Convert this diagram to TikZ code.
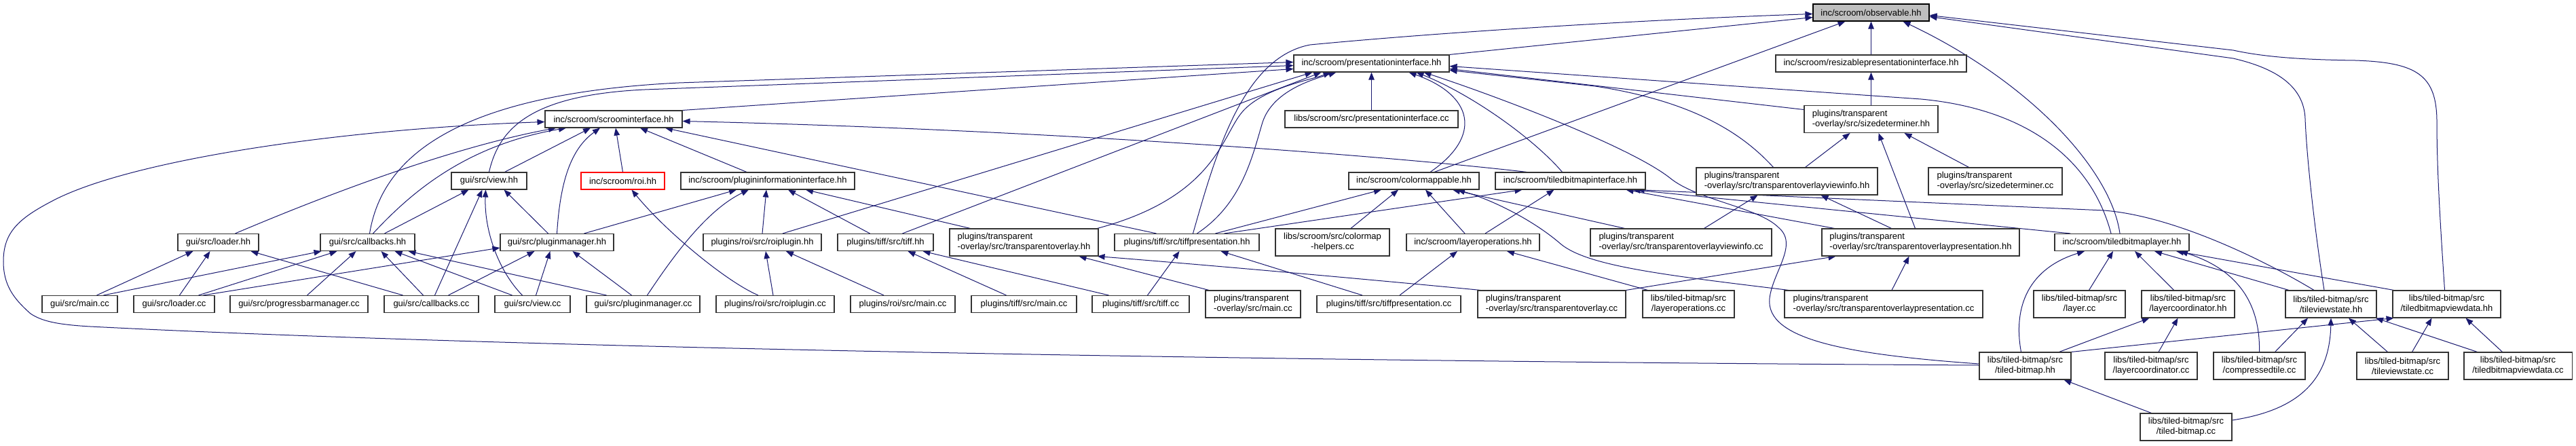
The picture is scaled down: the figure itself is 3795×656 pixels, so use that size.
\documentclass[tikz,border=0pt]{standalone}
\usepackage{fontspec}
\setmainfont{Liberation Sans}
\usetikzlibrary{arrows.meta}
\definecolor{edgeblue}{HTML}{191970}
\newcommand\dxfont{\fontsize{13}{15}\selectfont}
\pgfdeclarelayer{edgelayer}
\pgfsetlayers{edgelayer,main}
\tikzset{
  box/.style={draw=black!80, line width=1.1pt, fill=white, inner sep=0pt, minimum height=25pt, font=\dxfont, text=black},
  boxc/.style={box, minimum height=40pt, align=center},
  boxl/.style={box, minimum height=40pt, align=left},
  e/.style={draw=edgeblue, line width=1pt, -{Triangle[length=11pt,width=8.5pt]}}
}
\begin{document}
\begin{tikzpicture}[x=1pt,y=-1pt]
\useasboundingbox (0,0) rectangle (3795,656);
% row 1
\node[box, minimum width=171pt, fill=black!25, draw=black] (O) at (2756.5,18.5) {inc/scroom/observable.hh};
% row 2
\node[box, minimum width=229pt] (PI) at (2020.5,93.5) {inc/scroom/presentationinterface.hh};
\node[box, minimum width=281pt] (RPI) at (2756.5,93.5) {inc/scroom/resizablepresentationinterface.hh};
% row 3
\node[box, minimum width=202pt] (SI) at (904,175.5) {inc/scroom/scroominterface.hh};
\node[box, minimum width=255pt] (PIcc) at (2020.5,175.5) {libs/scroom/src/presentationinterface.cc};
\node[boxl, minimum width=197pt] (SDhh) at (2756.5,175.5) {plugins/transparent\\-overlay/src/sizedeterminer.hh};
% row 4
\node[box, minimum width=111pt] (VIEWhh) at (720.5,266.5) {gui/src/view.hh};
\node[box, minimum width=123pt, draw=red] (ROI) at (917.5,266.5) {inc/scroom/roi.hh};
\node[box, minimum width=256pt] (PII) at (1131,266.5) {inc/scroom/plugininformationinterface.hh};
\node[box, minimum width=192pt] (CM) at (2083,266.5) {inc/scroom/colormappable.hh};
\node[box, minimum width=221pt] (TBI) at (2313.5,266.5) {inc/scroom/tiledbitmapinterface.hh};
\node[boxl, minimum width=267pt] (VIhh) at (2632.5,267) {plugins/transparent\\-overlay/src/transparentoverlayviewinfo.hh};
\node[boxl, minimum width=197pt] (SDcc) at (2939.5,267) {plugins/transparent\\-overlay/src/sizedeterminer.cc};
% row 5
\node[box, minimum width=119pt] (LOADhh) at (321.5,357) {gui/src/loader.hh};
\node[box, minimum width=139pt] (CBhh) at (541.5,357) {gui/src/callbacks.hh};
\node[box, minimum width=167pt] (PMhh) at (820.5,357) {gui/src/pluginmanager.hh};
\node[box, minimum width=174pt] (ROIPhh) at (1123,357) {plugins/roi/src/roiplugin.hh};
\node[box, minimum width=141pt] (TIFFhh) at (1304.5,357) {plugins/tiff/src/tiff.hh};
\node[boxl, minimum width=219pt] (TOhh) at (1508.5,357) {plugins/transparent\\-overlay/src/transparentoverlay.hh};
\node[box, minimum width=213pt] (TPhh) at (1748.5,357) {plugins/tiff/src/tiffpresentation.hh};
\node[boxc, minimum width=168pt] (CMH) at (1963,357) {libs/scroom/src/colormap\\-helpers.cc};
\node[box, minimum width=196pt] (LOhh) at (2170,357) {inc/scroom/layeroperations.hh};
\node[boxl, minimum width=267pt] (VIcc) at (2476.5,357) {plugins/transparent\\-overlay/src/transparentoverlayviewinfo.cc};
\node[boxl, minimum width=291pt] (TOPhh) at (2829.5,357) {plugins/transparent\\-overlay/src/transparentoverlaypresentation.hh};
\node[box, minimum width=198pt] (TBL) at (3126,357) {inc/scroom/tiledbitmaplayer.hh};
% row 6
\node[box, minimum width=111pt] (MAINcc) at (117.5,448) {gui/src/main.cc};
\node[box, minimum width=119pt] (LOADcc) at (256.5,448) {gui/src/loader.cc};
\node[box, minimum width=203pt] (PBMcc) at (440.5,448) {gui/src/progressbarmanager.cc};
\node[box, minimum width=139pt] (CBcc) at (635.5,448) {gui/src/callbacks.cc};
\node[box, minimum width=111pt] (VIEWcc) at (784.5,448) {gui/src/view.cc};
\node[box, minimum width=167pt] (PMcc) at (947.5,448) {gui/src/pluginmanager.cc};
\node[box, minimum width=174pt] (ROIPcc) at (1142,448) {plugins/roi/src/roiplugin.cc};
\node[box, minimum width=154pt] (ROIMAIN) at (1330,448) {plugins/roi/src/main.cc};
\node[box, minimum width=155pt] (TIFFMAIN) at (1508.5,448) {plugins/tiff/src/main.cc};
\node[box, minimum width=143pt] (TIFFcc) at (1680.5,448) {plugins/tiff/src/tiff.cc};
\node[boxl, minimum width=140pt] (TOMAIN) at (1846,448) {plugins/transparent\\-overlay/src/main.cc};
\node[box, minimum width=212pt] (TPcc) at (2046,448) {plugins/tiff/src/tiffpresentation.cc};
\node[boxl, minimum width=218pt] (TOcc) at (2286,448) {plugins/transparent\\-overlay/src/transparentoverlay.cc};
\node[boxc, minimum width=135pt] (LOcc) at (2487.5,448) {libs/tiled-bitmap/src\\/layeroperations.cc};
\node[boxl, minimum width=292pt] (TOPcc) at (2775,448) {plugins/transparent\\-overlay/src/transparentoverlaypresentation.cc};
\node[boxc, minimum width=135pt] (LAYERcc) at (3063.5,448) {libs/tiled-bitmap/src\\/layer.cc};
\node[boxc, minimum width=137pt] (LCHhh) at (3223.5,448) {libs/tiled-bitmap/src\\/layercoordinator.hh};
\node[boxc, minimum width=134pt] (TVShh) at (3434,448) {libs/tiled-bitmap/src\\/tileviewstate.hh};
\node[boxc, minimum width=159pt] (TBVDhh) at (3604.5,448) {libs/tiled-bitmap/src\\/tiledbitmapviewdata.hh};
% row 7
\node[boxc, minimum width=135pt] (TBhh) at (2983.5,539) {libs/tiled-bitmap/src\\/tiled-bitmap.hh};
\node[boxc, minimum width=136pt] (LCcc) at (3169,539) {libs/tiled-bitmap/src\\/layercoordinator.cc};
\node[boxc, minimum width=135pt] (CTcc) at (3328.5,539) {libs/tiled-bitmap/src\\/compressedtile.cc};
\node[boxc, minimum width=135pt] (TVScc) at (3539.5,539) {libs/tiled-bitmap/src\\/tileviewstate.cc};
\node[boxc, minimum width=159pt] (TBVDcc) at (3709.5,539) {libs/tiled-bitmap/src\\/tiledbitmapviewdata.cc};
% row 8
\node[boxc, minimum width=135pt] (TBcc) at (3220.5,629) {libs/tiled-bitmap/src\\/tiled-bitmap.cc};

\begin{pgfonlayer}{edgelayer}
\fill[white] (0,0) rectangle (3795,656);
% into observable
\draw[e] (PI.north east) -- ([yshift=-7pt]O.west);
\draw[e] ([xshift=9pt]TPhh.north) .. controls (1790,230) and (1830,85) .. (1930,66) .. controls (2150,45) and (2450,28) .. ([yshift=-2pt]O.west);
\draw[e] ([xshift=30pt]CM.north) -- ([xshift=-38pt]O.south);
\draw[e] (RPI) -- (O);
\draw[e] ([xshift=-3pt]TBL.north) .. controls (3110,250) and (2990,120) .. ([xshift=47pt]O.south);
\draw[e] ([xshift=-10pt]TVShh.north) .. controls (3410,340) and (3398,230) .. (3396,175) .. controls (3394,125) and (3350,100) .. (3290,86) -- ([yshift=-6pt]O.east);
\draw[e] ([xshift=-3pt]TBVDhh.north) .. controls (3595,330) and (3590,250) .. (3590,180) .. controls (3590,110) and (3560,92) .. (3470,89) .. controls (3400,88) and (3340,85) .. (3290,74) -- ([yshift=-4pt]O.east);
% into presentationinterface
\draw[e] (PIcc) -- (PI);
\draw[e] (SI.north east) -- ([yshift=-8pt]PI.west);
\draw[e] (VIEWhh.north) .. controls (735,190) and (780,140) .. (950,132) -- ([yshift=-3pt]PI.west);
\draw[e] ([xshift=3pt]CBhh.north) .. controls (560,250) and (640,140) .. (1000,122) -- ([yshift=2pt]PI.west);
\draw[e] ([xshift=30pt]ROIPhh.north) -- ([xshift=-87pt]PI.south);
\draw[e] ([xshift=25pt]TIFFhh.north) -- ([xshift=-74pt]PI.south);
\draw[e] ([xshift=108pt]TOhh.north) .. controls (1790,290) and (1800,200) .. (1830,165) .. controls (1860,130) and (1930,118) .. ([xshift=-60pt]PI.south);
\draw[e] ([xshift=15pt]TPhh.north) .. controls (1830,300) and (1845,230) .. (1860,180) .. controls (1875,135) and (1930,118) .. ([xshift=-52pt]PI.south);
\draw[e] ([xshift=24pt]CM.north) .. controls (2185,200) and (2170,140) .. ([xshift=55pt]PI.south);
\draw[e] ([xshift=-12pt]TBI.north) .. controls (2260,205) and (2170,140) .. ([xshift=66pt]PI.south);
\draw[e] ([yshift=3pt]TBhh.west) .. controls (2720,522) and (2600,500) .. (2607,439) .. controls (2612,400) and (2650,360) .. (2620,335) .. controls (2590,305) and (2500,295) .. (2460,262) .. controls (2400,215) and (2200,140) .. ([xshift=77pt]PI.south);
\draw[e] ([xshift=-16pt]TBL.north) .. controls (3080,230) and (2980,160) .. (2830,146) -- ([yshift=-4pt]PI.east);
\draw[e] ([yshift=14pt]SDhh.west) -- ([yshift=-8pt]PI.east);
\draw[e] ([xshift=-20pt]VIhh.north) .. controls (2570,200) and (2500,150) .. (2350,127) -- ([yshift=-10pt]PI.east);
% into scroominterface
\draw[e] ([yshift=1pt]TBhh.west) .. controls (2000,533) and (800,515) .. (133,481) .. controls (80,478) and (60,472) .. (45,462) .. controls (20,440) and (5,420) .. (5,385) .. controls (5,340) and (30,320) .. (83,293) .. controls (200,235) and (500,190) .. ([yshift=-4pt]SI.west);
\draw[e] ([xshift=25pt]LOADhh.north) .. controls (450,300) and (650,220) .. ([xshift=-85pt]SI.south);
\draw[e] ([xshift=8pt]CBhh.north) .. controls (600,290) and (680,215) .. ([xshift=-70pt]SI.south);
\draw[e] ([xshift=23pt]VIEWhh.north) -- ([xshift=-34pt]SI.south);
\draw[e] (PMhh.north) .. controls (825,270) and (840,220) .. ([xshift=-20pt]SI.south);
\draw[e] (ROI.north) -- ([xshift=3pt]SI.south);
\draw[e] ([xshift=-31pt]PII.north) -- ([xshift=39pt]SI.south);
\draw[e] ([xshift=-45pt]TPhh.north) -- ([xshift=76pt]SI.south);
\draw[e] ([xshift=-64pt]TBI.north) .. controls (2000,225) and (1500,190) .. ([yshift=-3pt]SI.east);
% into plugininformationinterface
\draw[e] ([xshift=40pt]PMhh.north) -- ([xshift=-46pt]PII.south);
\draw[e] ([xshift=6pt]PMcc.north) .. controls (990,380) and (1040,310) .. ([xshift=-28pt]PII.south);
\draw[e] (ROIPhh.north) -- ([xshift=-2pt]PII.south);
\draw[e] ([xshift=-23pt]TIFFhh.north) -- ([xshift=30pt]PII.south);
\draw[e] ([xshift=-79pt]TOhh.north) -- ([xshift=56pt]PII.south);
% into roi
\draw[e] ([xshift=-25pt]ROIPcc.north) .. controls (1070,415) and (980,340) .. ([xshift=13pt]ROI.south);
% into view.hh
\draw[e] ([xshift=25pt]CBhh.north) -- ([xshift=-30pt]VIEWhh.south);
\draw[e] ([xshift=5pt]CBcc.north) -- ([xshift=-10pt]VIEWhh.south);
\draw[e] ([xshift=-15pt]VIEWcc.north) .. controls (735,400) and (713,340) .. ([xshift=-5pt]VIEWhh.south);
\draw[e] ([xshift=-13pt]PMhh.north) -- ([xshift=22pt]VIEWhh.south);
% into loader.hh
\draw[e] ([xshift=25pt]MAINcc.north) -- ([xshift=-37pt]LOADhh.south);
\draw[e] ([xshift=8pt]LOADcc.north) -- ([xshift=-12pt]LOADhh.south);
\draw[e] ([xshift=-42pt]CBcc.north) -- ([xshift=48pt]LOADhh.south);
% into callbacks.hh
\draw[e] ([xshift=35pt]MAINcc.north) -- ([xshift=-68pt]CBhh.south);
\draw[e] ([xshift=36pt]LOADcc.north) -- ([xshift=-45pt]CBhh.south);
\draw[e] ([xshift=12pt]PBMcc.north) -- ([xshift=-17pt]CBhh.south);
\draw[e] ([xshift=-12pt]CBcc.north) -- ([xshift=20pt]CBhh.south);
\draw[e] ([xshift=-30pt]VIEWcc.north) -- ([xshift=40pt]CBhh.south);
\draw[e] ([xshift=-54pt]PMcc.north) -- ([xshift=60pt]CBhh.south);
% into pluginmanager.hh
\draw[e] ([xshift=43pt]LOADcc.north) -- ([yshift=-8pt]PMhh.west);
\draw[e] ([xshift=25pt]CBcc.north) -- ([xshift=-33pt]PMhh.south);
\draw[e] ([xshift=5pt]VIEWcc.north) -- ([xshift=-10pt]PMhh.south);
\draw[e] ([xshift=-17pt]PMcc.north) -- ([xshift=23pt]PMhh.south);
% roiplugin.hh
\draw[e] ([xshift=-3pt]ROIPcc.north) -- ([xshift=5pt]ROIPhh.south);
\draw[e] ([xshift=-28pt]ROIMAIN.north) -- ([xshift=35pt]ROIPhh.south);
% tiff.hh
\draw[e] ([xshift=-26pt]TIFFMAIN.north) -- ([xshift=33pt]TIFFhh.south);
\draw[e] ([xshift=-47pt]TIFFcc.north) -- ([xshift=55pt]TIFFhh.south);
% transparentoverlay.hh
\draw[e] ([xshift=-65pt]TOMAIN.north) -- ([xshift=81pt]TOhh.south);
\draw[e] ([xshift=-105pt]TOcc.north) .. controls (2000,410) and (1750,388) .. ([xshift=-2pt]TOhh.south east);
% tiffpresentation.hh
\draw[e] ([xshift=10pt]TIFFcc.north) -- ([xshift=-11pt]TPhh.south);
\draw[e] ([xshift=-39pt]TPcc.north) -- ([xshift=50pt]TPhh.south);
% colormappable
\draw[e] ([xshift=42pt]TPhh.north) -- ([xshift=-48pt]CM.south);
\draw[e] ([xshift=27pt]CMH.north) -- ([xshift=-23pt]CM.south);
\draw[e] ([xshift=-12pt]LOhh.north) -- ([xshift=17pt]CM.south);
\draw[e] ([xshift=-83pt]VIcc.north) -- ([xshift=57pt]CM.south);
\draw[e] ([xshift=-140pt]TOPcc.north) .. controls (2450,405) and (2340,392) .. (2300,360) .. controls (2260,325) and (2200,295) .. ([xshift=64pt]CM.south);
% tiledbitmapinterface
\draw[e] ([xshift=55pt]TPhh.north) -- ([xshift=-71pt]TBI.south);
\draw[e] ([xshift=18pt]LOhh.north) -- ([xshift=-24pt]TBI.south);
\draw[e] ([xshift=-127pt]TOPhh.north) -- ([xshift=82pt]TBI.south);
\draw[e] ([xshift=-76pt]TBL.north) -- ([xshift=92pt]TBI.south);
\draw[e] ([xshift=-25pt]TVShh.north) .. controls (3330,380) and (3200,318) .. (3100,310) -- ([xshift=98pt]TBI.south);
% viewinfo.hh
\draw[e] ([xshift=34pt]VIcc.north) -- ([xshift=-43pt]VIhh.south);
\draw[e] ([xshift=-43pt]TOPhh.north) -- ([xshift=50pt]VIhh.south);
% sizedeterminer.hh
\draw[e] ([xshift=27pt]VIhh.north) -- ([xshift=-31pt]SDhh.south);
\draw[e] ([xshift=-8pt]TOPhh.north) -- ([xshift=11pt]SDhh.south);
\draw[e] ([xshift=-39pt]SDcc.north) -- ([xshift=49pt]SDhh.south);
\draw[e] (SDhh) -- (RPI);
% transparentoverlaypresentation.hh
\draw[e] (TOcc.north east) -- ([xshift=-125pt]TOPhh.south);
\draw[e] ([xshift=12pt]TOPcc.north) -- ([xshift=-17pt]TOPhh.south);
% layeroperations.hh
\draw[e] ([xshift=16pt]TPcc.north) -- ([xshift=-23pt]LOhh.south);
\draw[e] ([xshift=-60pt]LOcc.north) -- ([xshift=50pt]LOhh.south);
% tiledbitmaplayer
\draw[e] ([xshift=-6pt]TBhh.north) .. controls (2965,450) and (2990,395) .. ([xshift=-55pt]TBL.south);
\draw[e] ([xshift=14pt]LAYERcc.north) -- ([xshift=-13pt]TBL.south);
\draw[e] ([xshift=-21pt]LCHhh.north) -- ([xshift=19pt]TBL.south);
\draw[e] ([xshift=-62pt]TVShh.north) -- ([xshift=48pt]TBL.south);
\draw[e] ([xshift=-78pt]TBVDhh.north) -- ([xshift=80pt]TBL.south);
\draw[e] (CTcc.north) .. controls (3330,440) and (3290,395) .. ([xshift=86pt]TBL.south);
% layercoordinator.hh
\draw[e] ([xshift=50pt]TBhh.north) -- ([xshift=-57pt]LCHhh.south);
\draw[e] ([xshift=11pt]LCcc.north) -- ([xshift=-15pt]LCHhh.south);
% tileviewstate.hh
\draw[e] ([xshift=23pt]CTcc.north) -- ([xshift=-34pt]TVShh.south);
\draw[e] ([yshift=10pt]TBcc.east) .. controls (3380,605) and (3432,565) .. (TVShh.south);
\draw[e] ([xshift=-22pt]TVScc.north) -- ([xshift=26pt]TVShh.south);
\draw[e] ([xshift=-60pt]TBVDcc.north) -- ([xshift=66pt]TVShh.south);
% tiledbitmapviewdata.hh
\draw[e] (TBhh.north east) -- ([xshift=-78pt]TBVDhh.south);
\draw[e] ([xshift=14pt]TVScc.north) -- ([xshift=-22pt]TBVDhh.south);
\draw[e] ([xshift=-23pt]TBVDcc.north) -- ([xshift=28pt]TBVDhh.south);
% tiled-bitmap.hh
\draw[e] ([xshift=-51pt]TBcc.north) -- ([xshift=57pt]TBhh.south);
\end{pgfonlayer}
\end{tikzpicture}
\end{document}
